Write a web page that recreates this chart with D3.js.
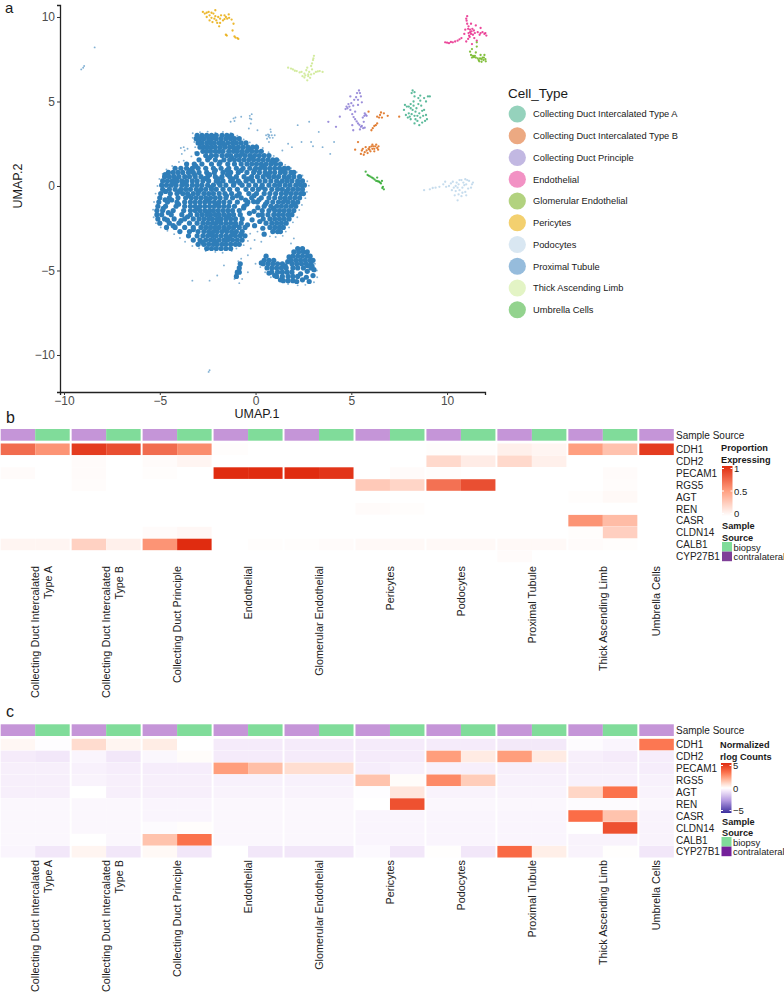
<!DOCTYPE html>
<html><head><meta charset="utf-8">
<script src="https://cdn.jsdelivr.net/npm/d3@7"></script>
<style>html,body{margin:0;background:#fff}svg{display:block}text{font-family:"Liberation Sans",Arial,sans-serif}</style>
</head><body><svg id="c" width="784" height="993"></svg>
<script>
const cellTypes=["Collecting Duct Intercalated Type A","Collecting Duct Intercalated Type B","Collecting Duct Principle","Endothelial","Glomerular Endothelial","Pericytes","Podocytes","Proximal Tubule","Thick Ascending Limb","Umbrella Cells"];
const heatLabels=[["Collecting Duct Intercalated","Type A"],["Collecting Duct Intercalated","Type B"],["Collecting Duct Principle"],["Endothelial"],["Glomerular Endothelial"],["Pericytes"],["Podocytes"],["Proximal Tubule"],["Thick Ascending Limb"],["Umbrella Cells"]];
const genes=["CDH1","CDH2","PECAM1","RGS5","AGT","REN","CASR","CLDN14","CALB1","CYP27B1"];
const legendColors=["#95d2bc","#eca982","#c2b8e2","#f292c4","#b2d27f","#f3d06f","#d9e7f2","#96bcdc","#e3f4c5","#93d38e"];
const pointColors=["#3fae8a","#dd6a14","#8b7bd3","#e7298a","#6fb51e","#e9ab0c","#bcd6ea","#2f7db8","#cbe88e","#2ea82e"];
// rows of the dense Proximal Tubule mass: [UMAP.2, [UMAP.1 ...]]
const tubuleRows=[
[3.0,[-3.05,-2.8,-2.55,-2.3,-2.05,-1.75,-1.5,-1.25]],
[2.8,[-3.1,-2.9,-2.7,-2.45,-2.3,-2.05,-1.8,-1.55,-1.3,-1.1,-0.85]],
[2.55,[-3.0,-2.8,-2.55,-2.35,-2.15,-1.9,-1.7,-1.45,-1.2,-1.0,-0.75,-0.5]],
[2.3,[-2.9,-2.7,-2.5,-2.3,-2.1,-1.85,-1.6,-1.35,-1.15,-0.9,-0.65,-0.4,-0.15,0.05]],
[2.05,[-2.75,-2.55,-2.35,-2.1,-1.9,-1.7,-1.4,-1.15,-0.95,-0.7,-0.45,-0.2,0.05,0.3]],
[1.8,[-2.6,-2.3,-2.05,-1.75,-1.5,-1.3,-1.0,-0.8,-0.55,-0.3,-0.05,0.2,0.45,0.7]],
[1.55,[-2.95,-2.5,-2.1,-1.65,-1.35,-1.1,-0.85,-0.6,-0.35,-0.1,0.15,0.4,0.65,0.9,1.1]],
[1.3,[-3.6,-3.2,-2.8,-2.3,-1.9,-1.45,-1.1,-0.75,-0.45,-0.2,0.05,0.3,0.55,0.8,1.05,1.3]],
[1.05,[-4.2,-3.9,-3.6,-3.3,-3.0,-2.6,-2.2,-1.8,-1.4,-1.0,-0.65,-0.3,0.0,0.25,0.5,0.75,1.0,1.25,1.5,1.7]],
[0.8,[-4.55,-4.3,-4.05,-3.8,-3.5,-3.25,-2.95,-2.55,-2.15,-1.7,-1.3,-0.9,-0.45,-0.1,0.2,0.5,0.75,1.0,1.3,1.55,1.85,2.0]],
[0.55,[-4.75,-4.5,-4.25,-4.0,-3.7,-3.45,-3.15,-2.85,-2.5,-2.1,-1.75,-1.35,-1.0,-0.6,-0.2,0.1,0.4,0.7,0.95,1.2,1.5,1.75,2.0,2.3]],
[0.3,[-4.85,-4.6,-4.35,-4.1,-3.85,-3.6,-3.3,-3.05,-2.75,-2.45,-2.05,-1.7,-1.3,-0.9,-0.5,-0.15,0.2,0.5,0.8,1.1,1.4,1.65,1.9,2.2,2.45]],
[0.05,[-4.9,-4.65,-4.4,-4.15,-3.85,-3.6,-3.3,-3.05,-2.8,-2.5,-2.2,-1.85,-1.55,-1.15,-0.7,-0.35,0.0,0.35,0.7,1.0,1.25,1.55,1.8,2.1,2.35,2.55]],
[-0.2,[-4.85,-4.5,-4.2,-3.9,-3.65,-3.4,-3.1,-2.85,-2.6,-2.3,-2.05,-1.7,-1.35,-0.95,-0.5,-0.15,0.15,0.5,0.85,1.15,1.4,1.7,1.95,2.2,2.45]],
[-0.45,[-4.95,-4.45,-4.1,-3.8,-3.55,-3.25,-3.0,-2.7,-2.45,-2.2,-1.9,-1.6,-1.25,-0.85,-0.35,0.05,0.45,0.75,1.05,1.35,1.6,1.85,2.1,2.35,2.5]],
[-0.7,[-5.0,-4.5,-4.05,-3.65,-3.35,-3.1,-2.85,-2.6,-2.35,-2.1,-1.85,-1.55,-1.2,-0.75,-0.2,0.3,0.7,1.0,1.3,1.55,1.8,2.05,2.3]],
[-0.95,[-5.05,-4.6,-4.1,-3.7,-3.4,-3.15,-2.9,-2.65,-2.4,-2.15,-1.9,-1.65,-1.35,-0.95,-0.4,0.1,0.6,0.9,1.2,1.45,1.7,1.95,2.2]],
[-1.2,[-5.1,-4.7,-4.15,-3.7,-3.4,-3.15,-2.9,-2.65,-2.4,-2.15,-1.9,-1.65,-1.4,-1.1,-0.6,0.45,0.8,1.1,1.35,1.6,1.85,2.1]],
[-1.45,[-5.15,-4.85,-4.3,-3.75,-3.4,-3.15,-2.9,-2.65,-2.4,-2.2,-1.95,-1.7,-1.45,-1.2,-0.85,0.35,0.7,1.0,1.25,1.5,1.75,2.0]],
[-1.7,[-5.15,-4.9,-4.4,-3.85,-3.4,-3.05,-2.8,-2.55,-2.35,-2.1,-1.9,-1.65,-1.4,-1.15,-0.8,0.35,0.65,0.95,1.2,1.45,1.7,1.9]],
[-1.95,[-5.1,-4.75,-4.25,-3.7,-3.25,-2.95,-2.7,-2.45,-2.25,-2.0,-1.8,-1.55,-1.3,-1.05,-0.7,0.4,0.75,1.0,1.25,1.5,1.75]],
[-2.2,[-5.0,-4.5,-4.0,-3.45,-3.05,-2.75,-2.5,-2.25,-2.05,-1.8,-1.55,-1.3,-1.05,-0.75,0.55,0.85,1.1,1.35,1.6]],
[-2.45,[-4.65,-4.2,-3.7,-3.25,-2.85,-2.6,-2.35,-2.1,-1.9,-1.65,-1.4,-1.15,-0.85,-0.55,0.75,1.0,1.25,1.45]],
[-2.7,[-3.95,-3.45,-3.0,-2.7,-2.45,-2.2,-2.0,-1.75,-1.5,-1.25,-1.0,-0.7,0.9,1.15,1.3]],
[-2.95,[-3.5,-3.05,-2.75,-2.5,-2.25,-2.05,-1.8,-1.55,-1.3,-1.05,-0.8,-0.55]],
[-3.2,[-3.25,-2.9,-2.6,-2.35,-2.15,-1.9,-1.65,-1.45,-1.2,-0.95,-0.7]],
[-3.45,[-3.0,-2.7,-2.45,-2.2,-2.0,-1.75,-1.55,-1.3,-1.05,-0.85]],
[-3.7,[-2.55,-2.3,-2.05,-1.8,-1.55,-1.3,2.2,2.45]],
[-3.9,[2.0,2.25,2.5,2.7]],
[-4.15,[0.55,1.95,2.2,2.45,2.7,2.85]],
[-4.4,[0.45,0.7,0.95,1.85,2.1,2.35,2.6,2.85,3.0]],
[-4.6,[-0.8,0.4,0.65,0.9,1.15,1.4,1.9,2.15,2.4,2.65,2.9]],
[-4.85,[-0.85,0.6,0.85,1.1,1.35,1.6,1.95,2.2,2.5,2.9]],
[-5.1,[-0.95,-0.85,0.85,1.15,1.4,1.65,1.9]],
[-5.35,[-1.0,1.1,1.4,1.7,1.95,2.2]],
[-5.6,[1.45,1.7,1.95]]
];
const tubuleFill=[[-4.72,0.68],[-4.18,0.42],[-3.72,0.18],[-3.18,0.66],[-2.66,0.44],[-2.32,-0.08],[-1.94,0.42],[-1.46,0.67],[-0.82,0.18],[-0.38,0.42],[0.32,-0.07],[0.62,0.67],[1.27,0.17],[1.62,-0.32],[2.22,0.17],[-3.48,-0.58],[-2.97,-0.31],[-2.52,-0.82],[-2.03,-1.07],[-1.52,-0.58],[-0.98,-0.58],[-0.52,-0.83],[-0.08,-0.57],[0.18,-0.82],[0.52,-1.07],[0.93,-1.33],[1.55,-0.83],[2.02,-1.08],[-4.38,-0.83],[-4.82,-1.33],[-4.55,-1.58],[-4.02,-1.08],[-3.55,-1.82],[-3.02,-1.33],[-2.45,-1.58],[-1.98,-2.07],[-1.42,-1.83],[-1.02,-2.33],[-0.45,-1.07],[-0.62,-1.3],[-0.32,-1.62],[-0.18,-2.0],[-0.42,-2.3],[-0.1,-0.92],[0.12,-1.28],[-0.08,-1.5],[0.15,-1.72],[-0.05,-2.35],[0.22,-2.1],[0.38,-2.5],[0.45,-2.85],[-4.3,-2.35],[-4.6,-2.02],[-3.9,-2.05],[-3.25,-2.58],[-2.35,-2.82],[-1.62,-2.58],[-1.12,-2.83],[-2.78,-3.32],[-2.1,-3.33],[-1.42,-3.07],[-0.75,-2.83],[-3.05,1.92],[-2.4,1.68],[-1.85,1.42],[-1.25,1.68],[-0.7,1.93],[-0.18,1.67],[0.42,1.17],[0.88,1.43],[1.4,0.92],[1.65,0.43],[-2.42,2.67],[-1.62,2.42],[-0.98,2.17],[-0.32,2.17],[-2.18,2.92],[-1.38,2.9],[-3.12,1.18],[-3.4,0.92],[-2.1,0.93],[-1.5,0.93],[-0.75,0.92],[-0.05,0.93],[-2.4,0.67],[-1.92,0.18],[-1.12,0.17],[-1.18,0.43],[-0.25,0.43],[-4.28,0.18],[-3.98,-0.32],[-4.7,-0.32],[-4.72,-0.82],[1.75,-4.2],[1.68,-4.48],[1.55,-4.72],[2.72,-4.72],[2.95,-4.75],[3.05,-4.95],[2.7,-5.05],[2.35,-5.2],[2.65,-5.4],[3.0,-5.3],[2.45,-5.55],[2.15,-5.65],[2.8,-5.65],[0.3,-4.55],[0.7,-5.15],[1.0,-5.3],[1.3,-5.55]];
const tubuleSparse=[[-9.0,7.0],[-9.1,6.9],[-8.95,7.1],[-8.4,8.2],[-2.4,-10.9],[-2.45,-11],[-0.3,4.0],[-0.2,4.25],[-0.25,3.7],[-0.35,3.4],[-0.22,3.95],[-0.3,4.15],[-1.15,4.0],[-1.05,4.05],[-1.3,3.8],[-1.1,3.85],[-0.75,4.1],[0.65,3.05],[0.8,3.2],[0.75,2.85],[0.6,2.8],[0.9,2.85],[1.0,3.0],[0.55,3.0],[0.72,3.0],[0.85,3.0],[0.68,2.92],[0.78,3.35],[0.7,2.6],[1.7,2.5],[1.9,2.3],[2.2,3.6],[2.4,2.6],[2.8,3.8],[2.9,2.6],[3.0,2.35],[3.3,3.2],[3.5,2.3],[3.9,1.9],[1.4,2.1],[4.1,2.6],[0.1,3.3],[-3.7,2.1],[-3.85,1.9],[-3.55,2.2],[-3.9,2.25],[-3.75,2.3],[-1.65,-4.7],[-2.4,-5.6],[-2.0,-5.3],[-0.05,-3.2],[0.1,-2.7],[0.3,-3.3],[-0.4,-4.1],[-0.25,-3.7],[0.0,-4.6],[-0.4,-5.1],[2.0,-3.1],[1.85,-3.4],[-3.3,-5.6],
[-3.28,3.12],[-2.9,3.18],[-2.5,3.22],[-2.1,3.15],[-1.7,3.2],[-1.3,3.12],[-0.95,2.98],[-0.62,2.75],[-0.3,2.58],[0.05,2.45],[0.38,2.25],[0.68,2.0],[0.95,1.78],[1.25,1.52],[1.55,1.25],[1.85,1.05],[2.15,0.82],[2.45,0.62],[2.7,0.28],[2.78,0.02],[2.68,-0.35],[2.6,-0.72],[2.42,-1.12],[2.28,-1.42],[2.18,-1.85],[1.95,-2.15],[1.75,-2.45],[1.58,-2.7],[1.42,-2.95],[1.05,-3.02],[0.75,-2.98],[-0.28,-2.82],[-0.4,-3.25],[-0.62,-3.5],[-1.0,-3.7],[-1.25,-3.85],[-1.72,-3.95],[-2.1,-3.9],[-2.6,-3.85],[-2.95,-3.68],[-3.3,-3.55],[-3.68,-3.3],[-3.95,-3.08],[-4.25,-2.85],[-4.6,-2.65],[-4.95,-2.45],[-5.2,-2.2],[-5.32,-1.85],[-5.35,-1.4],[-5.3,-0.95],[-5.22,-0.45],[-5.12,0.0],[-5.02,0.42],[-4.85,0.72],[-4.65,0.98],[-4.35,1.18],[-4.0,1.42],[-3.75,1.5],[-3.35,1.75],[-3.15,2.0],[-3.15,2.3],[-3.2,2.6],[-3.28,2.85],[3.1,-4.6],[3.2,-5.0],[3.22,-5.4],[3.05,-5.7],[2.6,-5.85],[2.2,-5.88],[1.7,-5.8],[1.25,-5.62],[0.8,-5.4],[0.5,-5.1],[0.25,-4.8],[-0.9,-4.45],[-0.75,-4.3],[-0.7,-5.5],[-1.1,-5.5],[-0.85,-5.75],[-1.05,-5.2]];
const clusterPoints=[
[[7.75,4.5],[7.85,4.2],[8.0,4.7],[8.0,4.3],[8.1,3.95],[8.2,4.5],[8.25,5.0],[8.3,4.15],[8.4,4.6],[8.45,3.85],[8.5,5.2],[8.55,4.3],[8.65,4.75],[8.7,3.75],[8.75,4.15],[8.9,5.0],[8.3,5.55],[8.15,5.5],[8.6,5.35],[8.95,3.95],[9.0,5.3],[9.1,5.3],[8.05,4.1],[8.3,3.7],[7.9,4.7],[8.8,4.5],[7.8,4.8],[7.95,4.05],[8.1,4.6],[8.15,4.25],[8.25,4.75],[8.3,5.3],[8.35,4.4],[8.45,4.15],[8.5,4.85],[8.6,4.05],[8.6,5.05],[8.7,4.45],[8.8,5.2],[8.85,3.85],[8.2,5.65],[8.9,4.2],[8.35,3.95],[8.1,4.85],[8.55,3.6]],
[[5.55,2.1],[5.7,2.0],[5.85,1.95],[5.95,2.15],[6.1,2.2],[6.2,2.05],[6.35,2.25],[6.3,2.45],[6.15,2.35],[5.95,2.3],[5.5,1.9],[5.75,2.3],[5.2,2.15],[5.35,2.6],[6.5,4.2],[6.7,4.3],[6.35,4.1],[6.9,4.15],[6.2,3.55],[6.35,3.7],[6.05,3.3],[5.9,4.4],[7.5,4.1],[5.6,2.2],[5.8,2.1],[6.0,2.05],[6.05,2.35],[6.2,2.2],[6.25,2.35],[6.42,2.35],[5.65,1.85],[5.9,2.2],[6.1,2.45],[6.55,4.35],[6.6,4.05],[6.45,4.05],[6.28,3.6],[6.12,3.42],[6.4,2.15]],
[[4.75,4.7],[4.85,4.85],[4.7,4.55],[5.0,4.9],[5.15,5.1],[5.3,5.5],[5.4,5.65],[5.5,5.3],[5.35,4.8],[5.05,4.25],[5.2,3.95],[5.35,3.7],[5.55,3.55],[5.7,3.45],[5.45,3.35],[5.7,4.3],[5.8,4.15],[5.6,4.05],[5.05,3.6],[4.4,4.1],[4.2,3.5],[3.8,3.8],[5.1,3.3],[5.65,3.8],[4.95,5.3],[5.2,4.4],[4.8,4.6],[4.9,4.7],[4.95,4.5],[5.1,4.75],[5.12,4.08],[5.28,3.82],[5.42,3.62],[5.62,3.42],[5.5,3.5],[5.75,4.22],[5.68,4.15],[5.45,5.5],[5.25,5.25],[5.35,5.1],[5.55,4.95]],
[[9.9,8.5],[10.1,8.45],[10.3,8.5],[10.55,8.6],[10.75,8.75],[10.9,9.0],[11.0,9.9],[11.05,9.6],[11.1,9.3],[11.2,9.1],[11.15,8.9],[11.35,8.95],[11.4,9.2],[11.5,9.5],[11.6,9.1],[11.75,9.05],[12.0,9.05],[12.05,8.9],[11.0,8.55],[11.3,8.4],[11.55,8.6],[11.25,9.6],[10.95,9.25],[11.75,9.35],[10.0,8.48],[10.2,8.52],[10.42,8.55],[10.65,8.68],[11.05,10.05],[11.02,9.78],[11.12,9.45],[11.2,9.25],[11.25,9.0],[11.28,9.15],[11.12,9.05],[11.32,9.3],[11.18,8.82],[11.45,9.05],[11.85,9.1],[11.95,9.0],[11.7,8.95],[11.1,8.7],[11.42,8.75]],
[[11.8,7.5],[11.65,7.45],[11.5,7.6],[11.35,7.7],[11.9,7.45],[12.0,7.5],[11.95,7.75],[11.75,7.75],[11.5,7.9],[11.25,7.75],[11.3,8.1],[11.55,8.25],[11.3,7.6],[11.8,7.35],[11.72,7.55],[11.85,7.6],[11.6,7.55],[11.92,7.6],[11.45,7.7],[11.4,7.62],[11.68,7.38],[12.02,7.38],[11.55,8.5],[11.2,7.95]],
[[-2.75,10.3],[-2.55,10.25],[-2.4,10.1],[-2.4,9.8],[-2.2,10.2],[-2.15,9.9],[-2.0,9.65],[-1.95,10.0],[-1.8,10.1],[-1.7,9.8],[-1.55,10.0],[-1.4,10.15],[-1.25,9.85],[-1.15,9.6],[-2.55,10.0],[-2.1,10.4],[-1.55,8.95],[-1.5,8.9],[-0.95,8.75],[-1.1,8.85],[-1.2,9.2],[-1.9,9.45],[-2.65,10.2],[-2.45,10.3],[-2.3,10.25],[-2.3,9.95],[-2.1,10.05],[-2.05,9.8],[-1.85,9.9],[-1.85,9.65],[-1.62,9.88],[-1.62,10.1],[-1.48,9.9],[-1.38,9.95],[-2.25,9.7],[-1.05,8.78],[-0.9,8.7]],
[[9.8,0.1],[10.1,0.0],[10.35,-0.1],[10.5,0.2],[10.65,-0.25],[10.75,0.35],[10.9,0.05],[10.95,-0.35],[11.15,0.3],[11.25,-0.1],[11.05,0.35],[11.3,0.1],[10.4,-0.55],[10.55,-0.85],[10.75,-0.6],[11.0,-0.55],[9.4,-0.1],[9.1,-0.2],[8.8,-0.25],[9.6,-0.05],[10.3,0.25],[10.6,0.1],[9.95,-0.05],[10.2,0.15],[10.45,-0.3],[10.6,-0.5],[10.8,-0.1],[10.85,0.2],[11.0,0.1],[11.1,-0.15],[10.95,0.4],[10.65,0.35],[10.25,-0.25],[9.9,0.25],[11.35,0.2],[10.8,-0.4],[10.45,0.0],[9.25,-0.12],[10.55,-0.1]],
[[1.7,7.0],[1.95,6.9],[2.15,6.8],[2.4,6.75],[2.55,6.65],[2.75,6.6],[2.65,6.85],[2.9,7.1],[3.0,7.45],[3.05,7.7],[2.95,6.9],[3.15,6.75],[3.35,6.8],[3.5,6.75],[2.85,6.4],[2.45,6.5],[2.9,6.6],[2.7,6.25],[1.85,6.95],[2.05,6.82],[2.3,6.72],[2.6,6.55],[2.8,6.75],[2.95,7.25],[3.02,7.55],[3.05,6.65],[3.25,6.78],[2.75,6.5],[2.55,6.42],[2.7,7.0]],
[[5.85,0.65],[6.0,0.55],[6.15,0.45],[6.3,0.3],[6.45,0.25],[6.55,0.15],[6.65,-0.05],[6.7,-0.2],[6.6,0.3],[5.75,0.85],[6.35,0.5],[5.92,0.6],[6.08,0.5],[6.22,0.38],[6.38,0.28],[6.5,0.2],[6.62,-0.12]]
];
const clusterOrder=[0,1,2,3,4,5,6,8,9];
const tickValuesX=[-10,-5,0,5,10];
const tickValuesY=[10,5,0,-5,-10];
const proportionExpressing=[
[.72,.55,.93,.85,.72,.58,.01,0,0,0,0,0,.01,.01,.08,.05,.5,.32,.93],
[0,0,.02,0,.02,.05,0,0,0,0,0,0,.2,.1,.2,.08,0,0,0],
[.02,0,.02,0,.01,0,1,1,1,.96,0,.02,.01,0,0,0,0,.02,0],
[0,0,.015,0,0,0,0,0,0,0,.28,.22,.7,.85,0,0,0,.015,0],
[0,0,0,0,0,0,0,0,0,0,0,0,0,0,0,0,.01,.03,0],
[0,0,0,0,0,0,0,0,0,0,.02,.01,0,0,0,0,0,0,0],
[0,0,0,0,0,0,0,0,0,0,0,0,0,0,0,0,.55,.35,0],
[0,0,0,0,.02,.04,0,0,0,0,0,0,0,0,0,0,.01,.25,0],
[.05,.05,.24,.08,.55,1,0,.01,.01,.02,.03,.03,.03,.03,.03,.03,.02,.01,0],
[0,0,0,0,0,0,0,0,0,0,0,0,0,0,.02,0,0,0,0]];
const rlogCounts=[
[.2,-.05,.85,.25,.45,0,-.5,-.5,-.5,-.5,-.5,-.5,-.5,-.5,-.55,-.55,-.1,-.25,3],
[-.5,-.6,-.25,-.6,-.2,.08,-.5,-.5,-.5,-.5,-.5,-.5,2.2,.5,2.2,.5,-.4,-.5,-.45],
[-.4,-.4,-.35,-.45,-.45,-.45,2.2,1.5,.8,.8,-.45,-.35,-.35,-.4,-.4,-.4,-.4,-.4,-.45],
[-.4,-.4,-.3,-.4,-.4,-.4,-.35,-.35,-.35,-.35,1.4,.08,2.6,1.2,-.35,-.35,-.35,-.35,-.35],
[-.4,-.4,0,-.4,-.4,-.4,-.3,-.3,-.3,-.3,-.05,.6,-.3,-.3,-.3,-.3,1,3.1,-.3],
[-.2,-.2,-.2,-.2,-.25,-.25,-.2,-.2,-.2,-.2,0,4,-.2,-.2,-.2,-.2,-.1,-.1,-.2],
[-.2,-.2,-.2,-.2,-.25,-.25,-.2,-.2,-.2,-.2,-.25,-.25,-.25,-.25,-.25,-.25,3.2,1.4,-.3],
[-.2,-.2,-.2,-.2,-.1,.05,-.2,-.2,-.2,-.2,-.25,-.25,-.25,-.25,-.25,-.25,0,4,-.3],
[-.2,-.2,0,-.2,1.4,3.1,-.2,-.2,-.2,-.2,-.25,-.25,-.25,-.25,-.25,-.25,-.3,-.3,-.3],
[-.25,-.6,.25,-.6,.15,-.6,0,-.6,-.6,-.6,-.15,-.6,.03,-.6,3.3,.4,-.3,.03,-.6]];
const sampleKeys=["contralateral","biopsy"];

const svg=d3.select("#c");
const ink="#1a1a1a";
function txt(x,y,s,size,o={}){return svg.append("text").attr("x",x).attr("y",y).text(s).attr("font-size",size).attr("fill",o.fill||ink).attr("font-weight",o.bold?"700":null).attr("text-anchor",o.anchor||"start");}
txt(5,13,"a",15);txt(6,423,"b",16);txt(6,717,"c",16);

// UMAP panel
const x=d3.scaleLinear().domain([-10.21,11.98]).range([60,485]);
const y=d3.scaleLinear().domain([-12.19,10.71]).range([392,5]);
svg.append("defs").append("filter").attr("id","soft").attr("x","-5%").attr("y","-5%").attr("width","110%").attr("height","110%").append("feGaussianBlur").attr("stdDeviation",.75);
const g=svg.append("g");
const tub=tubuleRows.flatMap(([v,xs])=>xs.map(u=>[u,v]));
g.append("g").attr("filter","url(#soft)").selectAll("circle").data(tub.concat(tubuleFill)).join("circle").attr("cx",d=>x(d[0])).attr("cy",d=>y(d[1])).attr("r",2.6).attr("fill",pointColors[7]);
g.append("g").selectAll("circle").data(tubuleSparse).join("circle").attr("cx",d=>x(d[0])).attr("cy",d=>y(d[1])).attr("r",.95).attr("fill",pointColors[7]).attr("opacity",.6);
clusterOrder.forEach((ci,k)=>{
  g.append("g").selectAll("circle").data(clusterPoints[k]).join("circle").attr("cx",d=>x(d[0])).attr("cy",d=>y(d[1])).attr("r",1.15).attr("fill",pointColors[ci]).attr("opacity",.85);
});
const ax=svg.append("g").attr("transform","translate(0,392)").call(d3.axisBottom(x).tickValues(tickValuesX).tickSize(3).tickPadding(1));
const ay=svg.append("g").attr("transform","translate(60,0)").call(d3.axisLeft(y).tickValues(tickValuesY).tickSize(3).tickPadding(2));
[ax,ay].forEach(a=>{a.selectAll("path").attr("stroke","#222").attr("stroke-width",1.3);a.selectAll("line").attr("stroke","#333");a.selectAll("text").attr("font-size",12).attr("fill","#4d4d4d").attr("font-family",'"Liberation Sans",Arial,sans-serif');});
txt(257,418,"UMAP.1",12.5,{anchor:"middle"});
svg.append("text").attr("transform","translate(22,186) rotate(-90)").attr("text-anchor","middle").attr("font-size",12.5).attr("fill",ink).text("UMAP.2");
txt(508,98,"Cell_Type",13.5);
cellTypes.forEach((c,i)=>{
  const cy=114+i*21.75;
  svg.append("circle").attr("cx",517.3).attr("cy",cy).attr("r",8.6).attr("fill",legendColors[i]);
  txt(533,cy+3.3,c,9.3);
});

// Heatmaps
const facetStarts=d3.scaleLinear().domain([0,9]).range([.7,639.3]);
const cols=[];cellTypes.forEach((c,f)=>{(f<9?[0,1]:[0]).forEach(s=>cols.push({f,s}));});
const colW=34.5,rowH=11.9;
const annot={contralateral:"#c595d8",biopsy:"#80dc9a"};
const red=d3.scaleLinear().domain([0,.5,1]).range(["#ffffff","#ff9f80","#e02c10"]);
const div=d3.scaleLinear().domain([-5,-2.5,-.5,0,1,2.2,3.2,5]).range(["#3c2f9e","#b49ae0","#f5ebfa","#ffffff","#ffd6c6","#ff9e7c","#fb6d47","#de2d14"]);
function heat(top,vals,col,lblTop){
  const h=svg.append("g");
  const xc=d=>facetStarts(d.f)+d.s*colW;
  h.selectAll("rect.a").data(cols).join("rect").attr("x",xc).attr("y",top).attr("width",colW).attr("height",11.7).attr("fill",d=>annot[sampleKeys[d.s]]);
  const yr=d3.scaleBand().domain(genes).range([top+14.5,top+14.5+rowH*10]);
  genes.forEach((gn,r)=>{
    h.append("g").selectAll("rect").data(cols).join("rect").attr("x",xc).attr("y",yr(gn)).attr("width",colW).attr("height",rowH-.3).attr("fill",(d,i)=>col(vals[r][i]));
    txt(676,yr(gn)+rowH/2+3.6,gn,10,{fill:"#222"});
  });
  txt(676,top+9.6,"Sample Source",10,{fill:"#222"});
  heatLabels.forEach((ls,f)=>{
    ls.forEach((l,j)=>{
      const cx=facetStarts(f)+(f<9?colW:colW/2)+j*13;
      svg.append("text").attr("transform",`translate(${cx+3.8},${lblTop}) rotate(-90)`).attr("text-anchor","end").attr("font-size",10.8).attr("fill","#222").text(l);
    });
  });
}
heat(429,proportionExpressing,red,566);
heat(724.3,rlogCounts,div,860);

function bar(id,x0,y0,h,scale,dom,labels){
  const grad=svg.append("defs").append("linearGradient").attr("id",id).attr("x1",0).attr("x2",0).attr("y1",0).attr("y2",1);
  const yS=d3.scaleLinear().domain(dom).range([y0+2.5,y0+h-2.5]);
  d3.range(21).forEach(i=>{const v=dom[0]+(dom[1]-dom[0])*i/20;grad.append("stop").attr("offset",(i*5)+"%").attr("stop-color",scale(v));});
  svg.append("rect").attr("x",x0).attr("y",y0).attr("width",10.5).attr("height",h).attr("fill",`url(#${id})`);
  labels.forEach(v=>{
    svg.append("line").attr("x1",x0).attr("x2",x0+2).attr("y1",yS(v)).attr("y2",yS(v)).attr("stroke","#fff");
    svg.append("line").attr("x1",x0+8.5).attr("x2",x0+10.5).attr("y1",yS(v)).attr("y2",yS(v)).attr("stroke","#fff");
    txt(x0+12,yS(v)+3.8,String(v).replace("-","\u2212"),9.5,{fill:"#222"});
  });
}
txt(721,451,"Proportion",9.2,{bold:true});txt(721,462.5,"Expressing",9.2,{bold:true});
bar("gb",722,466,50,red,[1,0],[1,.5,0]);
txt(722,528.5,"Sample",9.2,{bold:true});txt(722,540.5,"Source",9.2,{bold:true});
[["biopsy","#80dc9a"],["contralateral","#7f3f98"]].forEach(([t,c],i)=>{svg.append("rect").attr("x",722).attr("y",542+i*9.6).attr("width",10).attr("height",9.6).attr("fill",c);txt(733.5,550.5+i*9.6,t,9.4,{fill:"#222"});});
txt(720,748,"Normalized",9.2,{bold:true});txt(720,759.5,"rlog Counts",9.2,{bold:true});
bar("gc",721,763,50,div,[5,-5],[5,0,-5]);
txt(722,824.5,"Sample",9.2,{bold:true});txt(722,836,"Source",9.2,{bold:true});
[["biopsy","#80dc9a"],["contralateral","#74209a"]].forEach(([t,c],i)=>{svg.append("rect").attr("x",721.5).attr("y",837+i*9.6).attr("width",10).attr("height",9.6).attr("fill",c);txt(733,845.5+i*9.6,t,9.4,{fill:"#222"});});
</script></body></html>
